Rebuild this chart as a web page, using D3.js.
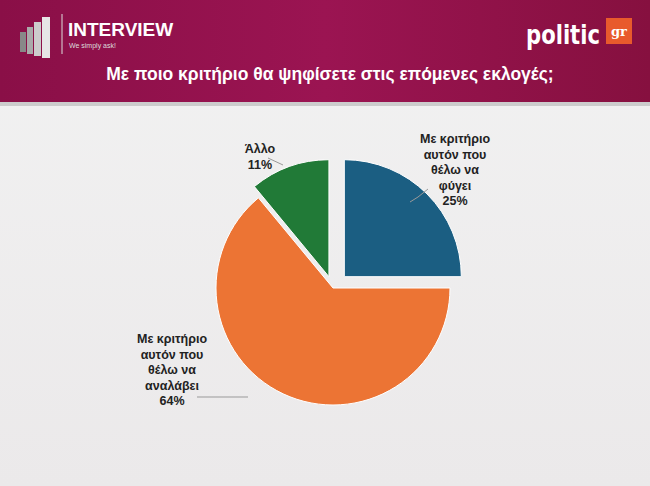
<!DOCTYPE html>
<html><head><meta charset="utf-8">
<script src="https://cdn.jsdelivr.net/npm/d3@7"></script>
<style>body{margin:0}svg{display:block}</style></head>
<body><svg id="c" width="650" height="486"></svg>
<script>
const categories = ["Με κριτήριο αυτόν που θέλω να φύγει", "Με κριτήριο αυτόν που θέλω να αναλάβει", "Άλλο"];
const values = [25, 64, 11];
const labelLines = [["Με κριτήριο","αυτόν που","θέλω να","φύγει","25%"],["Με κριτήριο","αυτόν που","θέλω να","αναλάβει","64%"],["Άλλο","11%"]];
const colors = ["#1b5e82", "#ec7434", "#217a37"];
const title = "Με ποιο κριτήριο θα ψηφίσετε στις επόμενες εκλογές;";

const svg = d3.select("#c");
const defs = svg.append("defs");
const bg = defs.append("linearGradient").attr("id","bg").attr("x1",0).attr("y1",0).attr("x2",0).attr("y2",1);
bg.append("stop").attr("offset","0").attr("stop-color","#f2f2f2");
bg.append("stop").attr("offset","1").attr("stop-color","#ebe9ea");
svg.append("rect").attr("width",650).attr("height",486).attr("fill","url(#bg)");
const hg = defs.append("linearGradient").attr("id","hg").attr("x1",0).attr("x2",1);
hg.append("stop").attr("offset","0").attr("stop-color","#8a0f47");
hg.append("stop").attr("offset","0.5").attr("stop-color","#9b1452");
hg.append("stop").attr("offset","1").attr("stop-color","#86103f");
svg.append("rect").attr("y",100).attr("width",650).attr("height",6).attr("fill","#ccc");
svg.append("rect").attr("width",650).attr("height",102).attr("fill","url(#hg)");
[[20,32,6],[27,27,6],[34,22,7],[42,17,8]].forEach(([x,y,w],i)=>svg.append("rect").attr("x",x).attr("y",y).attr("width",w).attr("height",52-y+(i*2)).attr("fill",["#888","#aaa","#ccc","#e6e6e6"][i]));
svg.append("line").attr("x1",62).attr("x2",62).attr("y1",14).attr("y2",54).attr("stroke","#ddd");
svg.append("text").attr("x",68).attr("y",36).attr("fill","#fff").attr("font-family","Liberation Sans, Arial").attr("font-size",19).attr("font-weight","bold").text("INTERVIEW");
svg.append("text").attr("x",69).attr("y",48).attr("fill","#ddd").attr("font-family","Liberation Sans, Arial").attr("font-size",7).text("We simply ask!");
svg.append("text").attr("x",526).attr("y",44).attr("fill","#fff").attr("font-family","Liberation Sans Narrow, DejaVu Sans Condensed").attr("font-size",26).attr("font-weight","bold").attr("textLength",74).attr("lengthAdjust","spacingAndGlyphs").text("politic");
svg.append("rect").attr("x",606).attr("y",18).attr("width",26).attr("height",26).attr("fill","#e85a2c");
svg.append("text").attr("x",619).attr("y",36).attr("text-anchor","middle").attr("fill","#fff").attr("font-family","DejaVu Serif").attr("font-size",13).attr("font-weight","bold").text("gr");
svg.append("text").attr("x",330).attr("y",80).attr("text-anchor","middle").attr("fill","#fff").attr("font-family","Liberation Sans, Arial").attr("font-size",17.5).attr("font-weight","bold").text(title);

const cx = 333, cy = 288, r = 117;
const arcs = d3.pie().sort(null).value(d=>d)(values);
const arc = d3.arc().innerRadius(0).outerRadius(r);
const explode = [16, 0, 12];
const g = svg.append("g").attr("transform",`translate(${cx},${cy})`);
arcs.forEach((a,i)=>{
  const m=(a.startAngle+a.endAngle)/2, d=explode[i];
  g.append("path").attr("d",arc(a)).attr("fill",colors[i])
   .attr("stroke","#fff").attr("stroke-width",1)
   .attr("transform",`translate(${Math.sin(m)*d},${-Math.cos(m)*d})`);
});
const labelPos = [[455,143],[172,343],[260,153]];
const leaders = [[[428,189],[418,197],[410,202]],[[197,397],[248,397]],[[268,158],[283,165]]];
labelLines.forEach((lines,i)=>{
  const t = svg.append("text").attr("text-anchor","middle").attr("font-family","Liberation Sans, Arial").attr("font-size",12.5).attr("font-weight","bold").attr("fill","#222");
  lines.forEach((l,j)=>t.append("tspan").attr("x",labelPos[i][0]).attr("y",labelPos[i][1]+j*15.5).text(l));
  svg.append("path").attr("d",d3.line()(leaders[i])).attr("stroke","#999").attr("fill","none");
});
</script></body></html>
